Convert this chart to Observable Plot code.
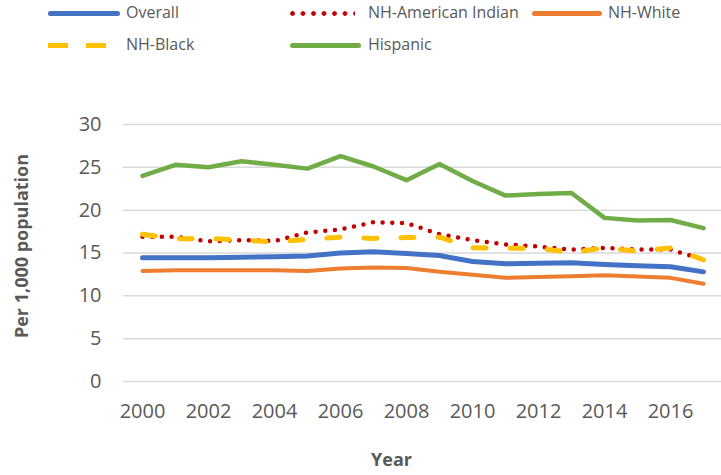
<!DOCTYPE html>
<html>
<head>
<meta charset="utf-8">
<script src="https://cdn.jsdelivr.net/npm/d3@7"></script>
<script src="https://cdn.jsdelivr.net/npm/@observablehq/plot@0.6"></script>
<style>
  body { margin: 0; background: #fff; font-family: "Open Sans", sans-serif; }
  #legend { position: relative; width: 721px; height: 60px; color: #595959; font-size: 16px; }
  .sw { position: absolute; height: 5px; border-radius: 3px; }
  .lb { position: absolute; line-height: 20px; white-space: nowrap; }
</style>
</head>
<body>
<div id="legend"></div>
<div id="chart"></div>
<script>
const years = [2000,2001,2002,2003,2004,2005,2006,2007,2008,2009,2010,2011,2012,2013,2014,2015,2016,2017];
const seriesNames = ["Overall","NH-American Indian","NH-White","NH-Black","Hispanic"];
const seriesColors = ["#4472C4","#C00000","#ED7D31","#FFC000","#70AD47"];
const overall  = [14.45,14.45,14.45,14.5,14.55,14.65,15.0,15.15,14.95,14.7,14.0,13.75,13.8,13.85,13.65,13.5,13.4,12.8];
const amIndian = [16.9,16.9,16.35,16.5,16.4,17.4,17.75,18.6,18.5,17.2,16.5,16.0,15.75,15.4,15.6,15.4,15.4,14.25];
const white    = [12.9,13.0,13.0,13.0,13.0,12.9,13.2,13.3,13.25,12.8,12.45,12.1,12.2,12.3,12.4,12.25,12.1,11.4];
const black    = [17.2,16.65,16.7,16.5,16.3,16.6,16.85,16.7,16.8,16.85,15.6,15.55,15.55,15.05,15.6,15.2,15.6,14.2];
const hispanic = [24.0,25.3,25.0,25.7,25.3,24.85,26.3,25.1,23.5,25.4,23.4,21.7,21.9,22.0,19.1,18.8,18.85,17.9];
const yTicks = [0,5,10,15,20,25,30];
const xTicks = [2000,2002,2004,2006,2008,2010,2012,2014,2016];

const seriesValues = [overall, amIndian, white, black, hispanic];
const tables = seriesValues.map(vals => years.map((yr, i) => ({year: yr, value: vals[i]})));

// Legend (HTML, above the SVG)
const legendItems = [
  {i: 0, sx: 48, sw: 72, tx: 126, y: 13, kind: "solid"},
  {i: 1, sx: 290, sw: 65, tx: 368, y: 13, kind: "dot"},
  {i: 2, sx: 532, sw: 70, tx: 608, y: 13, kind: "solid"},
  {i: 3, sx: 48, sw: 59, tx: 126, y: 45, kind: "dash"},
  {i: 4, sx: 290, sw: 71, tx: 368, y: 45, kind: "solid"}
];
const legend = document.getElementById("legend");
for (const it of legendItems) {
  const c = seriesColors[it.i];
  const s = document.createElement("div");
  s.className = "sw";
  s.style.left = it.sx + "px";
  s.style.width = it.sw + "px";
  s.style.top = (it.y - 2.5) + "px";
  if (it.kind === "solid") s.style.background = c;
  else if (it.kind === "dot") {
    s.style.borderRadius = "0";
    s.style.background = `radial-gradient(circle at 2.5px 2.5px, ${c} 2px, transparent 2.6px) 0 0 / 10.5px 5px repeat-x`;
  } else {
    s.style.borderRadius = "0";
    s.style.background = `repeating-linear-gradient(90deg, ${c} 0 20px, transparent 20px 38px)`;
  }
  legend.appendChild(s);
  const l = document.createElement("div");
  l.className = "lb";
  l.style.left = it.tx + "px";
  l.style.top = (it.y - 11) + "px";
  l.textContent = seriesNames[it.i];
  legend.appendChild(l);
}

const lineStyles = [
  {strokeWidth: 5},
  {strokeWidth: 4.5, strokeDasharray: "0 9.7"},
  {strokeWidth: 4},
  {strokeWidth: 5, strokeDasharray: "13 24"},
  {strokeWidth: 4.5}
];

const marks = [
  Plot.ruleY(yTicks, {stroke: "#D9D9D9", strokeWidth: 1.5}),
  Plot.axisY({ticks: yTicks, tickSize: 0, tickPadding: 22, label: null, fontSize: 20}),
  Plot.axisX({ticks: xTicks, tickSize: 0, tickPadding: 22, label: null, fontSize: 20, tickFormat: d => String(d)}),
  ...tables.map((t, k) => Plot.line(t, {
    x: "year", y: "value", stroke: seriesColors[k],
    strokeLinecap: "round", strokeLinejoin: "round", ...lineStyles[k]
  })),
  Plot.text(["Per 1,000 population"], {frameAnchor: "left", textAnchor: "middle", lineAnchor: "middle", rotate: -90, dx: -101, dy: -7, fontSize: 18, fontWeight: "bold", fill: "#595959", text: d => d}),
  Plot.text(["Year"], {frameAnchor: "bottom", textAnchor: "middle", lineAnchor: "middle", dy: 79, dx: -31, fontSize: 18, fontWeight: "bold", fill: "#595959", text: d => d})
];

const chart = Plot.plot({
  width: 721,
  height: 415,
  marginTop: 64,
  marginBottom: 94,
  marginLeft: 123,
  marginRight: 0,
  style: {fontFamily: "'Open Sans', sans-serif", color: "#595959", background: "#fff", fontSize: "20px", overflow: "visible"},
  x: {type: "point", domain: years, padding: 0.5},
  y: {domain: [0, 30]},
  marks
});
document.getElementById("chart").appendChild(chart);
</script>
</body>
</html>
